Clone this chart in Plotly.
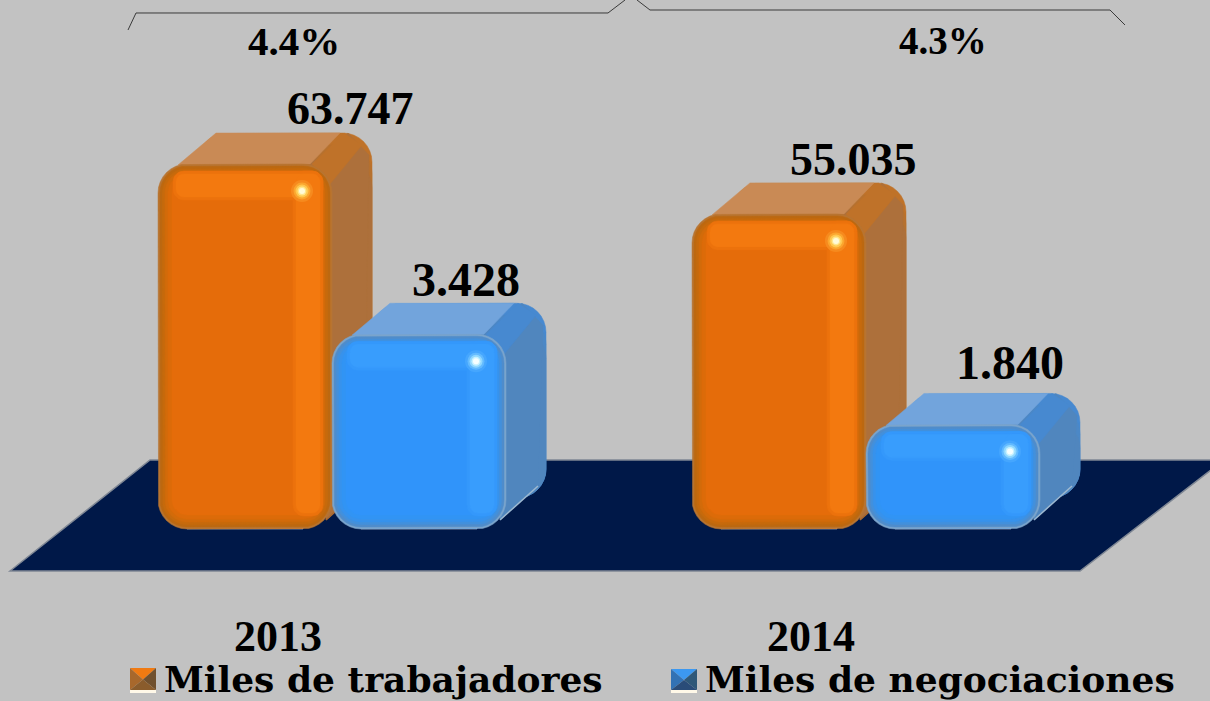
import math
import plotly.graph_objects as go

# ---- data ----
years = ["2013", "2014"]
trabajadores = [63747, 55035]
negociaciones = [3428, 1840]
shares = ["4.4%", "4.3%"]
series_names = ["Miles de trabajadores", "Miles de negociaciones"]

# ---- layout constants ----
W, H = 1210, 701
BASE_PX = 529
K1 = 63747 / 365     # units per pixel, primary axis
K2 = 17.6            # units per pixel, secondary axis
BAR_W, DX, DY, R = 174, 40, 31, 29
CENTERS = {"t": [245, 779], "n": [419, 953]}
FONT = "Liberation Serif"
LEGEND_FONT = "DejaVu Serif"
BG = "#C2C2C2"

ORANGE = dict(layers=["#B87430", "#BC6810", "#C66A0C", "#D26B0A", "#DC6B09", "#E56C0A"],
              strip=["#EC720C", "#F3790F"], side="#AD703B", shoulder=["#BF7229", "#B6712F"],
              top="#C98A55", glow=["#F68A1E", "#FBA52E", "#FFC850", "#FFE88E", "#FFFBD8"], edge="#A9682E")
BLUE = dict(layers=["#7AA4CC", "#4F8CCB", "#4290DC", "#3792EC", "#3194F4", "#3094FA"],
            strip=["#3498FB", "#389DFD"], side="#5086BE", shoulder=["#4789D0", "#4C88C6"],
            top="#72A4DC", glow=["#45A6FE", "#62BAFF", "#90D8FF", "#C8F2FF", "#F6FFFF"], edge="#9DB8D0")


def rrect(x0, x1, y0, y1, r, k):
    """Rounded rectangle outline in axis units; y0, y1 in axis units, r in pixels."""
    xs, ys = [], []
    for cx, cy, a0 in [(x1 - r, y1 - r * k, 0), (x0 + r, y1 - r * k, 90),
                       (x0 + r, y0 + r * k, 180), (x1 - r, y0 + r * k, 270)]:
        for i in range(9):
            a = math.radians(a0 + i * 90 / 8)
            xs.append(cx + r * math.cos(a))
            ys.append(cy + r * math.sin(a) * k)
    return xs, ys


def poly(fig, xs, ys, color, yaxis):
    fig.add_trace(go.Scatter(x=xs + xs[:1], y=ys + ys[:1], mode="lines", fill="toself",
                             fillcolor=color, line=dict(color=color, width=0.5),
                             hoverinfo="skip", showlegend=False, yaxis=yaxis))


def column(fig, cx, value, k, style, yaxis, name, year):
    x0, x1 = cx - BAR_W / 2, cx + BAR_W / 2
    # real bar carrying the value (under the modelled faces)
    fig.add_trace(go.Bar(x=[cx], y=[value], width=[BAR_W - 2 * R], marker_color=style["layers"][-1],
                         name=name, hovertext=[year], showlegend=False, yaxis=yaxis))
    d = DY * k
    # back body: brighter shoulder fading into the side colour
    for drop, col in zip([0, 12, 26], style["shoulder"] + [style["side"]]):
        xs, ys = rrect(x0 + DX, x1 + DX, d, value + d - drop * k, R, k)
        poly(fig, xs, ys, col, yaxis)
    # connection of side to the front
    poly(fig, [x1 - 22, x1 + DX - 24, x1 + DX - 3, x1 + DX - 8, x1 - 6],
         [value, value + d, value + d - 22 * k, d + 12 * k, 9 * k], style["side"], yaxis)
    poly(fig, [x1 - 20, x1 + DX - 28, x1 + DX - 10, x1 - 2],
         [value, value + d, value + d - 12 * k, value - 20 * k], style["shoulder"][0], yaxis)
    # top face
    poly(fig, [x0 + 20, x0 + 20 + DX - 2, x1 + DX - 32, x1 - 22],
         [value - 1 * k, value + d, value + d, value], style["top"], yaxis)
    # bottom-right light edge of the extrusion
    fig.add_trace(go.Scatter(x=[x1 - 6, x1 + DX - 8], y=[9 * k, d + 12 * k], mode="lines",
                             line=dict(color=style["edge"], width=1.5), hoverinfo="skip",
                             showlegend=False, yaxis=yaxis))
    # front face: inset layers
    for inset, col in zip([0, 2, 4.5, 7, 10, 14], style["layers"]):
        xs, ys = rrect(x0 + inset, x1 - inset, inset * k, value - inset * k, max(R - inset, 12), k)
        poly(fig, xs, ys, col, yaxis)
    # light bands
    for grow, col in zip([3, 0], style["strip"]):
        xs, ys = rrect(x0 + 18 - grow, x1 - 12 + grow, value - 33 * k - grow * k, value - 10 * k + grow * k,
                       8 + grow, k)
        poly(fig, xs, ys, col, yaxis)
        xs, ys = rrect(x1 - 36 - grow, x1 - 12 + grow, 16 * k - grow * k, value - 10 * k + grow * k,
                       8 + grow, k)
        poly(fig, xs, ys, col, yaxis)
    # highlight
    for size, col in zip([22, 17, 13, 9, 6], style["glow"]):
        fig.add_trace(go.Scatter(x=[x1 - 30], y=[value - 27 * k], mode="markers",
                                 marker=dict(size=size, color=col, line_width=0),
                                 hoverinfo="skip", showlegend=False, yaxis=yaxis))


fig = go.Figure()
for cx, v, y in zip(CENTERS["t"], trabajadores, years):
    column(fig, cx, v, K1, ORANGE, "y", series_names[0], y)
for cx, v, y in zip(CENTERS["n"], negociaciones, years):
    column(fig, cx, v, K2, BLUE, "y2", series_names[1], y)


def px(x, y):
    return x / W, 1 - y / H


def path(pts):
    return "M " + " L ".join(f"{a:.5f},{b:.5f}" for a, b in (px(*p) for p in pts)) + " Z"


shapes = [dict(type="path", xref="paper", yref="paper", layer="below",
               path=path([(10, 571), (150, 460), (1224, 460), (1080, 571)]),
               fillcolor="#001848", line=dict(color="#7F8794", width=1.5))]

for pts in ([(128, 30), (136, 13), (608, 13), (625, 0)],
            [(637, 0), (650, 10), (1110, 10), (1125, 25)]):
    d = "M " + " L ".join(f"{a:.5f},{b:.5f}" for a, b in (px(*p) for p in pts))
    shapes.append(dict(type="path", xref="paper", yref="paper", path=d, line=dict(color="#3A3A3A", width=1)))


def swatch(x0, y0, x1, y1, top, left, right, bottom):
    mid = ((x0 + x1) / 2, (y0 + y1) / 2 - 1)
    for pts, col in [([(x0, y0), (x1, y0), mid], top), ([(x0, y0), (x0, y1 - 3), mid], left),
                     ([(x1, y0), (x1, y1 - 3), mid], right), ([(x0, y1 - 3), (x1, y1 - 3), mid], bottom),
                     ([(x0, y1 - 3), (x1, y1 - 3), (x1, y1), (x0, y1)], "#FFF8E8")]:
        shapes.append(dict(type="path", xref="paper", yref="paper", path=path(pts), fillcolor=col, line_width=0))


swatch(130, 668, 156, 693, "#F07A12", "#A8682C", "#70502E", "#8A5C2C")
swatch(671, 669, 697, 693, "#3C98F0", "#3272B4", "#2F5878", "#2A4C78")


def note(text, x, y, size, family=FONT):
    return dict(text=f"<b>{text}</b>", x=x / W, y=1 - y / H, xref="paper", yref="paper", showarrow=False,
                xanchor="center", yanchor="middle", font=dict(family=family, size=size, color="#000000"))


def fmt(v):
    return f"{v:,}".replace(",", ".")


annotations = []
# value labels tied to the axes
for cx, v, dx_, ys_ in zip(CENTERS["t"], trabajadores, [105, 74], [56, 54]):
    annotations.append(dict(text=f"<b>{fmt(v)}</b>", x=cx + dx_, y=v, xref="x", yref="y", yshift=ys_,
                            showarrow=False, font=dict(family=FONT, size=46, color="#000000")))
for cx, v, dx_, ys_ in zip(CENTERS["n"], negociaciones, [47, 57], [55, 62]):
    annotations.append(dict(text=f"<b>{fmt(v)}</b>", x=cx + dx_, y=v, xref="x", yref="y2", yshift=ys_,
                            showarrow=False, font=dict(family=FONT, size=48, color="#000000")))
annotations += [note(shares[0], 294, 41, 41), note(shares[1], 943, 41, 39),
                note(years[0], 278, 636, 44), note(years[1], 811, 636, 44),
                note(series_names[0], 383, 679, 36, LEGEND_FONT),
                note(series_names[1], 940, 679, 36, LEGEND_FONT)]

fig.update_layout(
    width=W, height=H, margin=dict(l=0, r=0, t=0, b=0), autosize=False,
    paper_bgcolor=BG, plot_bgcolor="rgba(0,0,0,0)", barmode="overlay", showlegend=False,
    xaxis=dict(range=[0, W], visible=False, fixedrange=True),
    yaxis=dict(range=[(BASE_PX - H) * K1, BASE_PX * K1], visible=False, fixedrange=True),
    yaxis2=dict(range=[(BASE_PX - H) * K2, BASE_PX * K2], visible=False, overlaying="y", fixedrange=True),
    shapes=shapes, annotations=annotations,
)

fig.write_html("out.html", config=dict(displayModeBar=False),
               post_script="document.body.style.margin='0';document.body.style.overflow='hidden';")
